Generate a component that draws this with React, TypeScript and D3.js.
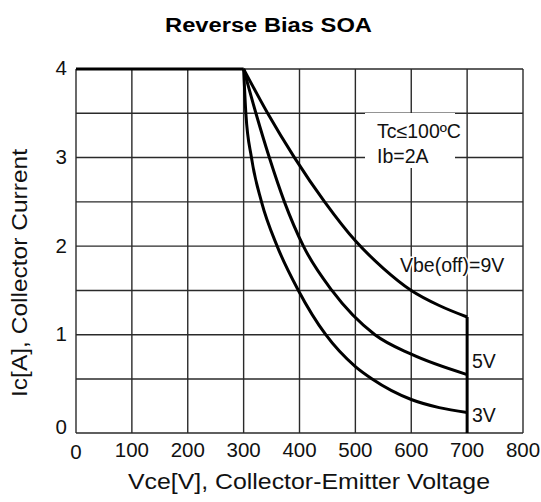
import React from "react";
import * as d3 from "d3";

const xTicks = [0, 100, 200, 300, 400, 500, 600, 700, 800];
const yTicks = [0, 1, 2, 3, 4];
const yGrid = [0, 0.5, 1, 1.5, 2, 2.5, 3, 3.5, 4];

const flatVce = [0, 300];
const flatIc = [4, 4];

const vce9 = [300, 343, 391, 445, 500, 550, 600, 650, 700];
const ic9 = [4, 3.5, 3.0, 2.5, 2.06, 1.75, 1.5, 1.33, 1.2];

const vce5 = [300, 322, 346, 373, 407, 458, 535, 600, 700];
const ic5 = [4, 3.5, 3.0, 2.5, 2.0, 1.5, 1.0, 0.78, 0.55];

const vce3 = [300, 304, 314, 332, 360, 398, 447, 500, 530, 600, 650, 700];
const ic3 = [4, 3.5, 3.0, 2.5, 2.0, 1.5, 1.0, 0.64, 0.5, 0.31, 0.235, 0.19];

const limitVce = [700, 700];
const limitIc = [1.2, 0];

const FONT = "'Liberation Sans', Arial, sans-serif";

export default function App() {
  const W = 541;
  const H = 502;
  const x = d3.scaleLinear().domain([0, 800]).range([76, 523]);
  const y = d3.scaleLinear().domain([0, 0.5, 4]).range([433, 379, 69]);

  const toPts = (xs: number[], ys: number[]) => xs.map((v, i) => [v, ys[i]] as [number, number]);
  const curve = d3
    .line<[number, number]>()
    .x((d) => x(d[0]))
    .y((d) => y(d[1]))
    .curve(d3.curveMonotoneX);
  const straight = d3
    .line<[number, number]>()
    .x((d) => x(d[0]))
    .y((d) => y(d[1]));

  const gridColor = "#2a2a2a";
  const txt = "#111";

  return (
    <svg
      width={W}
      height={H}
      style={{ position: "absolute", left: 0, top: 0, background: "#fff" }}
      fontFamily={FONT}
    >
      <rect x={0} y={0} width={W} height={H} fill="#fff" />
      <text x={165} y={32} fontSize={20} fontWeight="bold" fill="#000" textLength={207} lengthAdjust="spacingAndGlyphs">
        Reverse Bias SOA
      </text>

      {/* grid */}
      <g stroke={gridColor} strokeWidth={1.4}>
        {xTicks.map((t) => (
          <line key={"vx" + t} x1={x(t)} x2={x(t)} y1={y(0)} y2={y(4)} />
        ))}
        {yGrid.map((t) => (
          <line key={"hy" + t} x1={x(0)} x2={x(800)} y1={y(t)} y2={y(t)} />
        ))}
      </g>

      {/* annotation box */}
      <rect x={365} y={113} width={90} height={55} fill="#fff" />
      <text x={377} y={138} fontSize={19.5} fill={txt}>Tc≤100ºC</text>
      <text x={377} y={163} fontSize={19.5} fill={txt}>Ib=2A</text>

      {/* curves */}
      <g fill="none" stroke="#000" strokeWidth={3}>
        <path d={straight(toPts(flatVce, flatIc)) || ""} />
        <path d={curve(toPts(vce9, ic9)) || ""} />
        <path d={curve(toPts(vce5, ic5)) || ""} />
        <path d={curve(toPts(vce3, ic3)) || ""} />
        <path d={straight(toPts(limitVce, limitIc)) || ""} />
      </g>

      <text x={400} y={272} fontSize={19.5} fill={txt} stroke="#fff" strokeWidth={3} paintOrder="stroke">
        Vbe(off)=9V
      </text>
      <text x={472} y={368} fontSize={19.5} fill={txt}>5V</text>
      <text x={472} y={422} fontSize={19.5} fill={txt}>3V</text>

      {/* x ticks */}
      {xTicks.map((t) => (
        <text key={"xt" + t} x={x(t)} y={t === 0 ? 459 : 457} textAnchor="middle" fontSize={20.5} fill={txt}>
          {t}
        </text>
      ))}
      {/* y ticks */}
      {yTicks.map((t) => (
        <text key={"yt" + t} x={67} y={y(t) + (t === 0 ? -4 : 1)} textAnchor="end" dominantBaseline="middle" fontSize={20.5} fill={txt}>
          {t}
        </text>
      ))}

      <text x={128} y={489} fontSize={22} fill={txt} textLength={362} lengthAdjust="spacingAndGlyphs">
        Vce[V], Collector-Emitter Voltage
      </text>
      <text
        transform={`translate(27,397) rotate(-90)`}
        fontSize={22}
        fill={txt}
        textLength={248}
        lengthAdjust="spacingAndGlyphs"
      >
        Ic[A], Collector Current
      </text>
    </svg>
  );
}
